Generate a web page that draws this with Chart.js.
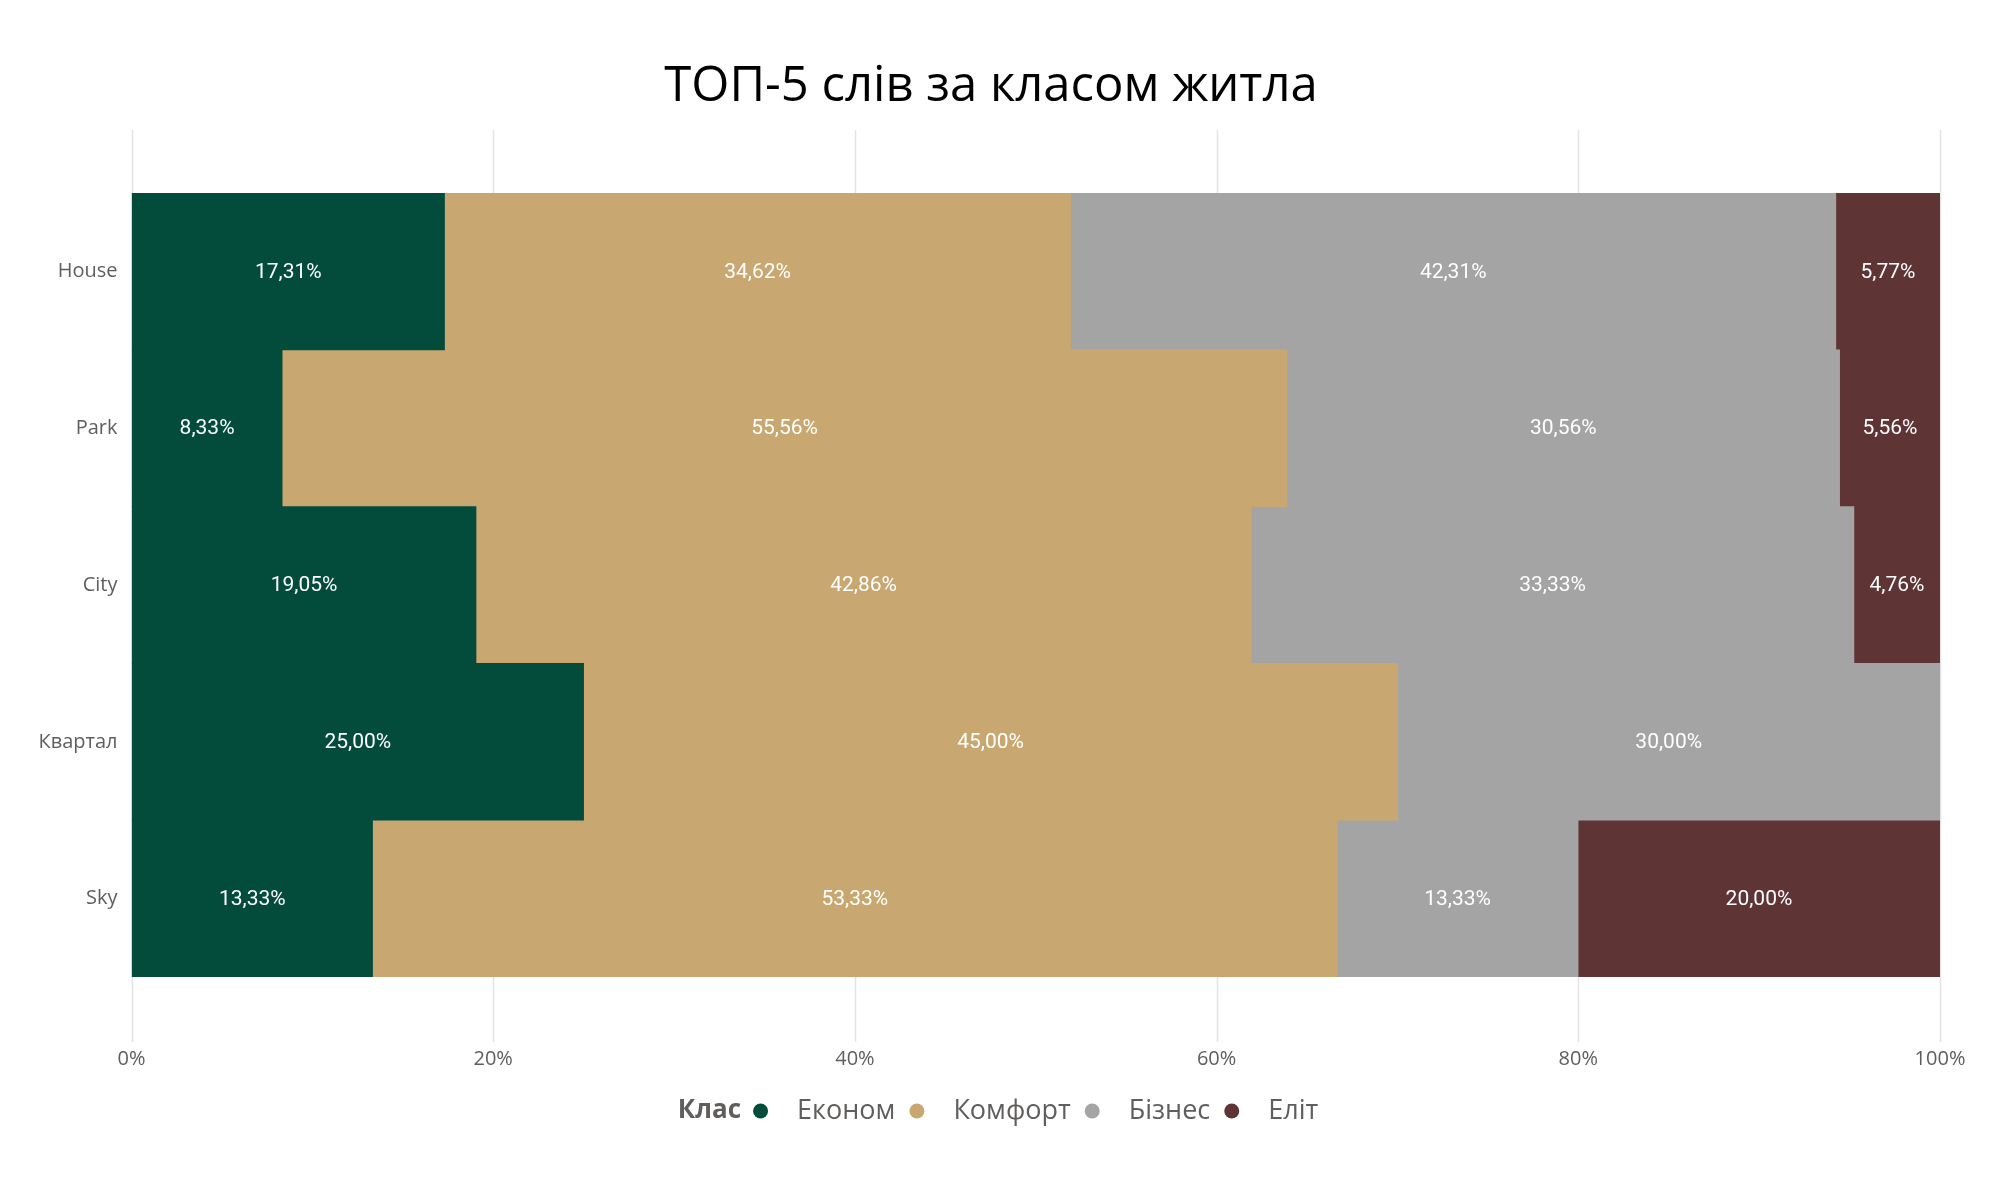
<!DOCTYPE html>
<html>
<head>
<meta charset="utf-8">
<script src="https://cdn.jsdelivr.net/npm/chart.js@4/dist/chart.umd.min.js"></script>
<style>
  html, body { margin: 0; padding: 0; background: #fff; }
  #wrap { width: 2000px; height: 1186px; position: relative; }
</style>
</head>
<body>
<div id="wrap"><canvas id="c" width="2000" height="1186"></canvas></div>
<script>
// Share of each housing class among complexes whose name contains the word (in %)
const words = ['House', 'Park', 'City', 'Квартал', 'Sky'];
const classNames = ['Економ', 'Комфорт', 'Бізнес', 'Еліт'];
const ekonom  = [17.31, 8.33, 19.05, 25.00, 13.33];
const komfort = [34.62, 55.56, 42.86, 45.00, 53.33];
const biznes  = [42.31, 30.56, 33.33, 30.00, 13.33];
const elit    = [5.77, 5.56, 4.76, 0, 20.00];
const xTicks  = [0, 20, 40, 60, 80, 100];
const chartTitle = 'ТОП-5 слів за класом житла';

const classColors = ['#034C3C', '#C8A870', '#A5A4A5', '#5E3435'];
const seriesValues = [ekonom, komfort, biznes, elit];

const AXIS_FONT = '"Open Sans", "Noto Sans", sans-serif';
const LABEL_FONT = 'Roboto, "Noto Sans", sans-serif';

const fmt = v => v.toFixed(2).replace('.', ',') + '%';

// Page heading, centred on the page rather than on the plot area
const headingPlugin = {
  id: 'heading',
  afterDraw(chart) {
    const { ctx } = chart;
    ctx.save();
    ctx.fillStyle = '#000000';
    ctx.font = '49px ' + AXIS_FONT;
    ctx.textAlign = 'center';
    ctx.textBaseline = 'middle';
    ctx.fillText(chartTitle, 991, 87);
    ctx.restore();
  }
};

// Vertical grid lines that run a bit past the bars, at the x scale's ticks
const gridPlugin = {
  id: 'longGrid',
  beforeDatasetsDraw(chart) {
    const { ctx } = chart;
    const xs = chart.scales.x;
    ctx.save();
    ctx.strokeStyle = '#E4E4E4';
    ctx.lineWidth = 1.5;
    xs.ticks.forEach(t => {
      const x = Math.round(xs.getPixelForValue(t.value)) + 0.5;
      ctx.beginPath();
      ctx.moveTo(x, 130);
      ctx.lineTo(x, 1042);
      ctx.stroke();
    });
    ctx.restore();
  }
};

// Value labels in the middle of each segment
const valueLabels = {
  id: 'valueLabels',
  afterDatasetsDraw(chart) {
    const { ctx } = chart;
    ctx.save();
    ctx.fillStyle = '#FFFFFF';
    ctx.font = '21px ' + LABEL_FONT;
    ctx.textAlign = 'center';
    ctx.textBaseline = 'middle';
    chart.data.datasets.forEach((ds, di) => {
      const meta = chart.getDatasetMeta(di);
      meta.data.forEach((bar, i) => {
        const v = ds.data[i];
        if (!v) return;
        const p = bar.getCenterPoint();
        ctx.fillText(fmt(v), p.x, p.y + 1);
      });
    });
    ctx.restore();
  }
};

// Inline legend: bold caption followed by dot + class name
const inlineLegend = {
  id: 'inlineLegend',
  afterDraw(chart) {
    const { ctx } = chart;
    const y = 1111;
    ctx.save();
    ctx.textBaseline = 'middle';
    ctx.textAlign = 'left';
    const caption = 'Клас';
    const capFont = 'bold 26px ' + AXIS_FONT;
    const itemFont = '27px ' + AXIS_FONT;
    const dotR = 7.5, dotGap = 12, textGap = 29, itemGap = 2;
    ctx.font = capFont;
    let total = ctx.measureText(caption).width;
    ctx.font = itemFont;
    chart.data.datasets.forEach(ds => {
      total += dotGap + dotR * 2 + textGap + ctx.measureText(ds.label).width + itemGap;
    });
    let x = 999 - total / 2;
    ctx.font = capFont;
    ctx.fillStyle = '#605E5C';
    ctx.fillText(caption, x, y);
    x += ctx.measureText(caption).width;
    ctx.font = itemFont;
    chart.data.datasets.forEach(ds => {
      x += dotGap + dotR;
      ctx.beginPath();
      ctx.arc(x, y, dotR, 0, Math.PI * 2);
      ctx.fillStyle = ds.backgroundColor;
      ctx.fill();
      x += dotR + textGap;
      ctx.fillStyle = '#605E5C';
      ctx.fillText(ds.label, x, y);
      x += ctx.measureText(ds.label).width + itemGap;
    });
    ctx.restore();
  }
};

const datasets = classNames.map((name, i) => ({
  label: name,
  data: seriesValues[i],
  backgroundColor: classColors[i],
  borderWidth: 0,
  barPercentage: 1.0,
  categoryPercentage: 1.0
}));

new Chart(document.getElementById('c'), {
  type: 'bar',
  data: { labels: words, datasets },
  plugins: [headingPlugin, gridPlugin, valueLabels, inlineLegend],
  options: {
    indexAxis: 'y',
    responsive: false,
    animation: false,
    layout: { padding: { left: 0, right: 60, top: 193, bottom: 100 } },
    plugins: {
      legend: { display: false },
      tooltip: { enabled: false },
      title: { display: false }
    },
    scales: {
      x: {
        stacked: true,
        min: 0,
        max: 100,
        afterBuildTicks(scale) {
          scale.ticks = xTicks.map(v => ({ value: v }));
        },
        afterFit(scale) { scale.height = 109; },
        // invisible tick marks push the labels down below the bars
        grid: { display: true, drawOnChartArea: false, drawTicks: true, tickLength: 70, color: 'rgba(0,0,0,0)' },
        border: { display: false },
        ticks: {
          color: '#605E5C',
          padding: 0,
          maxRotation: 0,
          font: { family: AXIS_FONT, size: 20 },
          callback: v => v + '%'
        }
      },
      y: {
        stacked: true,
        afterFit(scale) { scale.width = 131.5; },
        grid: { display: false, drawTicks: false },
        border: { display: false },
        ticks: {
          color: '#605E5C',
          padding: 14,
          font: { family: AXIS_FONT, size: 20 }
        }
      }
    }
  }
});
</script>
</body>
</html>
